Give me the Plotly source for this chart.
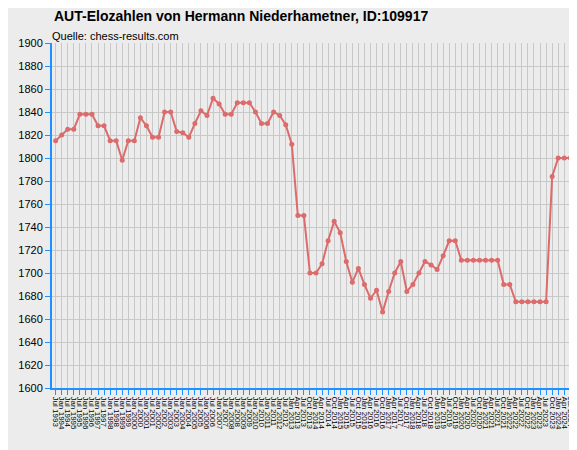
import plotly.graph_objects as go

elo = [1815,1820,1825,1825,1838,1838,1838,1828,1828,1815,1815,1798,1815,1815,1835,1828,1818,1818,1840,1840,
       1823,1822,1818,1830,1841,1837,1852,1847,1838,1838,1848,1848,1848,1840,1830,1830,1840,1837,1829,1812,
       1750,1750,1700,1700,1708,1728,1745,1735,1710,1692,1704,1690,1678,1685,1666,1684,1700,1710,1684,1690,
       1700,1710,1707,1703,1715,1728,1728,1711,1711,1711,1711,1711,1711,1711,1690,1690,
       1675,1675,1675,1675,1675,1675,1784,1800,1800,1800,1800]

labels = []
for y in range(1993, 2013):
    labels += [f"Jul {y}", f"Jan {y+1}"]
labels = labels[:40]
mon = ["Apr", "Jul", "Oct", "Jan"]
q, y = 0, 2013
while len(labels) < len(elo):
    labels.append(f"{mon[q]} {y}")
    q += 1
    if q == 4:
        q = 0
    if mon[q] == "Jan":
        y += 1
labels = labels[:len(elo)]

fig = go.Figure(go.Scatter(x=labels, y=elo, mode="lines+markers",
                           line=dict(color="#dc6b6b", width=2),
                           marker=dict(color="#dc6b6b", size=5)))
fig.update_layout(
    width=577, height=450, paper_bgcolor="#ececec", plot_bgcolor="#ececec",
    margin=dict(l=44, r=5, t=35, b=70, autoexpand=False), showlegend=False,
    font=dict(family="Liberation Sans", size=11, color="#000"),
    annotations=[
        dict(text="<b>AUT-Elozahlen von Hermann Niederhametner, ID:109917</b>", xref="paper", yref="paper",
             x=0.0, y=1.0, yshift=17, xanchor="left", yanchor="bottom", showarrow=False,
             font=dict(size=14)),
        dict(text="Quelle: chess-results.com", xref="paper", yref="paper",
             x=-0.003, y=1.0, yshift=-1, xanchor="left", yanchor="bottom", showarrow=False,
             font=dict(size=11))],
)
fig.update_xaxes(type="category", tickangle=90, tickfont=dict(size=8), dtick=1,
                 range=[-0.6, len(elo) - 0.4],
                 showgrid=True, gridcolor="#c8c8c8", showline=True, linecolor="#1e90ff",
                 linewidth=2, ticks="outside", tickcolor="#1e90ff", ticklen=5)
fig.update_yaxes(range=[1600, 1900], dtick=20, showgrid=True, gridcolor="#c8c8c8",
                 showline=True, linecolor="#1e90ff", linewidth=2, ticks="outside",
                 tickcolor="#1e90ff", ticklen=5, zeroline=False)
fig.write_html("out.html")
